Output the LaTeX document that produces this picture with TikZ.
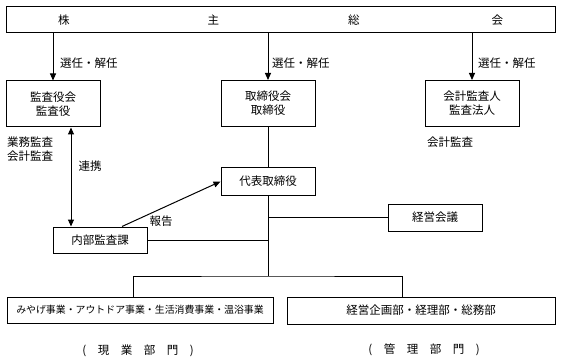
\documentclass[tikz,border=0pt]{standalone}
\usepackage{fontspec}
\setmainfont{Noto Sans CJK JP}
\usetikzlibrary{positioning, arrows.meta}

\begin{document}
\begin{tikzpicture}[x=1pt, y=1pt,
  % ---- Style definitions ----
  box/.style={
    draw, line width=1pt, minimum width=94pt, minimum height=46pt,
    inner sep=0pt, align=center, font=\fontsize{11.5}{14}\selectfont
  },
  smallbox/.style={box, minimum height=28pt},
  arr/.style={
    -{Triangle[length=7pt, width=6pt]}, line width=1pt
  },
  dblarr/.style={
    {Triangle[length=7pt, width=6pt]}-{Triangle[length=7pt, width=6pt]}, line width=1pt
  },
  conn/.style={line width=1pt},
  lbl/.style={
    font=\fontsize{11.5}{14}\selectfont, inner sep=0pt, align=left
  },
]
\useasboundingbox (0,0) rectangle (561,-358);

% ---- Nodes (top to bottom) ----
\node[box, minimum width=549pt, minimum height=26pt] (gm) at (280.5,-20)
  {株\hspace{138pt}主\hspace{129pt}総\hspace{132pt}会};

\node[box] (kansa) at (53,-104) {監査役会\\監査役};
\node[box] (tori) at (268,-103.5) {取締役会\\取締役};
\node[box] (kaikei) at (472,-103.5) {会計監査人\\監査法人};

\node[smallbox, below=40pt of tori] (daihyo) {代表取締役};
\node[smallbox, minimum height=27pt] (keiei) at (435,-217.5) {経営会議};
\node[smallbox, minimum height=26pt] (naibu) at (100,-240) {内部監査課};

\node[smallbox, minimum width=266pt, minimum height=26pt,
      font=\fontsize{9.9}{12}\selectfont] (genba) at (140,-310)
  {みやげ事業・アウトドア事業・生活消費事業・温浴事業};
\node[smallbox, minimum width=268pt, minimum height=27pt] (kanri) at (421,-310.5)
  {経営企画部・経理部・総務部};

% ---- Labels ----
\node[lbl, anchor=west] (sennin1) at (60,-63) {選任・解任};
\node[lbl, anchor=west] (sennin2) at (272,-63) {選任・解任};
\node[lbl, anchor=west] (sennin3) at (478,-63) {選任・解任};
\node[lbl] (gyomu) at (30,-149) {業務監査\\会計監査};
\node[lbl] (kaikeikansa) at (450,-142) {会計監査};
\node[lbl] (renkei) at (90,-166) {連携};
\node[lbl] (hokoku) at (161,-221) {報告};
\node[lbl] (genbabu) at (138,-351) {(\quad 現\quad 業\quad 部\quad 門\quad )};
\node[lbl] (kanribu) at (424,-350) {(\quad 管\quad 理\quad 部\quad 門\quad )};

% ---- Connectors ----
\draw[arr] (gm.south -| kansa.north) -- (kansa.north);
\draw[arr] (gm.south -| tori.north) -- (tori.north);
\draw[arr] (gm.south -| kaikei.north) -- (kaikei.north);

\draw[dblarr] ([xshift=18pt]kansa.south) -- ([xshift=18pt]kansa.south |- naibu.north);
\draw[arr] ([xshift=22pt]naibu.north) -- (daihyo.west);

\coordinate (br) at ([yshift=-80pt]daihyo.south);
\draw[conn] (tori) -- (daihyo);
\draw[conn] (daihyo) -- (br);
\draw[conn] (keiei) -- (keiei.west -| br);
\draw[conn] (naibu) -- (naibu.east -| br);
\draw[conn] ([xshift=-7pt]genba.north) |- (br) -| ([xshift=-19pt]kanri.north);

\end{tikzpicture}
\end{document}
